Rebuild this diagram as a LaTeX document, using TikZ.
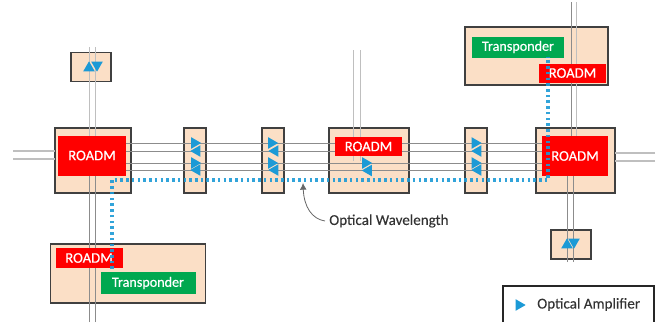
\documentclass[tikz,border=0pt]{standalone}
\usepackage{fontspec}
\setmainfont{Carlito}
\newfontfamily\boxfont{Carlito}[FakeBold=0.5]
\newfontfamily\capfont{Carlito}[FakeBold=0.15]
\usetikzlibrary{shapes.geometric,arrows.meta}
\definecolor{peach}{HTML}{FBDFC6}
\definecolor{ampblue}{HTML}{1C9AD6}
\definecolor{tgreen}{HTML}{00A850}
\tikzset{
  size/.style 2 args={minimum width=#1*0.75pt, minimum height=#2*0.75pt, inner sep=0pt, outer sep=0pt},
  nodebox/.style={draw=black!75, line width=1pt, fill=peach},
  legendbox/.style={draw=black!85, line width=1pt},
  roadm/.style={fill=red, text=white, font=\boxfont\fontsize{11}{12}\selectfont},
  transponder/.style={fill=tgreen, text=white, font=\boxfont\fontsize{10.6}{12}\selectfont},
  fibre/.style={draw=black!45, line width=0.6pt},
  stub/.style={draw=black!25, line width=0.8pt},
  wave/.style={draw=ampblue, line width=2.5pt, dash pattern=on 1.9pt off 2.4pt, opacity=0.9},
  amp/.style={regular polygon, regular polygon sides=3, fill=ampblue, minimum size=10pt, inner sep=0pt, outer sep=0pt},
  ampright/.style={amp, shape border rotate=-90},
  ampleft/.style={amp, shape border rotate=90},
  ampup/.style={amp},
  ampdown/.style={amp, shape border rotate=180},
  caption/.style={text=black!80, inner sep=0pt, font=\capfont\fontsize{11.3}{12}\selectfont},
}

\begin{document}
\begin{tikzpicture}[x=0.75pt, y=-0.75pt]
    \useasboundingbox (0,0) rectangle (665,322);
    % boxes
    \node[nodebox, size={76}{65}] (boxL) at (93,160.5) {};
    \node[nodebox, size={22}{65}] (boxA) at (195,160.5) {};
    \node[nodebox, size={22}{65}] (boxB) at (273,160.5) {};
    \node[nodebox, size={80}{65}] (boxC) at (369,160.5) {};
    \node[nodebox, size={22}{65}] (boxD) at (476,160.5) {};
    \node[nodebox, size={79}{65}] (boxR) at (575.5,160.5) {};
    \node[nodebox, size={40}{29}] (boxN) at (91,67) {};
    \node[nodebox, size={40}{29}] (boxS) at (571,244.5) {};
    \node[nodebox, size={143}{58}] (siteT) at (536.5,56) {};
    \node[nodebox, size={155}{59}] (siteB) at (128,273.5) {};
    % end points of the loose lines
    \coordinate (endW) at (13,155);
    \coordinate (endE) at (655,157);
    \coordinate (endLN) at (92.5,47);
    \coordinate (endLS) at (92.5,322);
    \coordinate (endCN) at (357,50);
    \coordinate (endRN) at (573.5,2);
    \coordinate (endRS) at (570.5,262);
    % fibres
    \foreach \y in {143,151,163,170}
        \draw[fibre] (boxL.center |- 0,\y) -- (boxR.center |- 0,\y);
    \draw[stub] ([yshift=3pt]endW) -- ([yshift=3pt]endW -| boxL.west);
    \draw[stub] ([yshift=-3pt]endW) -- ([yshift=-3pt]endW -| boxL.west);
    \draw[stub] ([yshift=3pt]endE) -- ([yshift=3pt]endE -| boxR.east);
    \draw[stub] ([yshift=-3pt]endE) -- ([yshift=-3pt]endE -| boxR.east);
    \draw[stub] ([xshift=-2.3pt]endLN) -- ([xshift=-2.3pt]endLN |- boxL.center);
    \draw[stub] ([xshift=2.3pt]endLN) -- ([xshift=2.3pt]endLN |- boxL.center);
    \draw[fibre] ([xshift=-2.3pt]endLS) -- ([xshift=-2.3pt]endLS |- boxL.center);
    \draw[fibre] ([xshift=2.3pt]endLS) -- ([xshift=2.3pt]endLS |- boxL.center);
    \draw[stub] ([xshift=-2.3pt]endCN) -- ([xshift=-2.3pt]endCN |- boxC.center);
    \draw[stub] ([xshift=2.3pt]endCN) -- ([xshift=2.3pt]endCN |- boxC.center);
    \draw[fibre] ([xshift=-1.9pt]endRN) -- ([xshift=-1.9pt]endRN |- boxR.center);
    \draw[stub] ([xshift=1.9pt]endRN) -- ([xshift=1.9pt]endRN |- boxR.center);
    \draw[fibre] ([xshift=-2.3pt]endRS) -- ([xshift=-2.3pt]endRS |- boxR.center);
    \draw[fibre] ([xshift=2.3pt]endRS) -- ([xshift=2.3pt]endRS |- boxR.center);
    % ROADMs and transponders
    \node[roadm, size={68}{40}] (roadmL) at (92,155.5) {ROADM};
    \node[roadm, size={67}{19}] (roadmC) at (368.5,146.5) {ROADM};
    \node[roadm, size={66}{40}] (roadmR) at (575,156) {ROADM};
    \node[roadm, size={67}{19}] (roadmT) at (572.5,73) {ROADM};
    \node[roadm, size={67}{20}] (roadmB) at (89,258) {ROADM};
    \node[transponder, size={92}{21}] (transT) at (518,47) {Transponder};
    \node[transponder, size={95}{22}] (transB) at (148,283) {Transponder};
    % amplifiers
    \node[ampright] (a1) at (194.5,143) {};
    \node[ampleft] (a2) at (197,151) {};
    \node[ampright] (a3) at (194.5,163) {};
    \node[ampleft] (a4) at (197,170) {};
    \node[ampright] (b1) at (271.5,143) {};
    \node[ampleft] (b2) at (275,151) {};
    \node[ampright] (b3) at (271.5,163) {};
    \node[ampleft] (b4) at (275,170) {};
    \node[ampright] (c1) at (365.5,163) {};
    \node[ampleft] (c2) at (368.5,170.5) {};
    \node[ampright] (d1) at (475,143) {};
    \node[ampleft] (d2) at (478,151) {};
    \node[ampright] (d3) at (475,163) {};
    \node[ampleft] (d4) at (478,170) {};
    \node[ampup] (n1) at (89,68) {};
    \node[ampdown] (n2) at (97,65) {};
    \node[ampup] (s1) at (567,245) {};
    \node[ampdown] (s2) at (574,242) {};
    % wavelength
    \coordinate (waveA) at (112,269);
    \coordinate (waveB) at (112,180);
    \coordinate (waveC) at (548,180);
    \coordinate (waveD) at (548,57);
    \draw[wave] (waveA) -- (waveB) -- (waveC) -- (waveD);
    \node[caption, anchor=west] (wavelabel) at (329,221) {Optical Wavelength};
    \coordinate (wavetip) at (303,183);
    \draw[draw=black!60, line width=0.6pt, -{Latex[length=5pt,width=5pt]}] ([xshift=-3pt]wavelabel.west) .. controls (312,219) and (304,207) .. (wavetip);
    % legend
    \draw[legendbox] (503,322) |- (654,286) -- (654,322);
    \node[ampright] (legendamp) at (519,305) {};
    \node[caption, anchor=west] (legendtext) at (537,304.5) {Optical Amplifier};
\end{tikzpicture}
\end{document}
